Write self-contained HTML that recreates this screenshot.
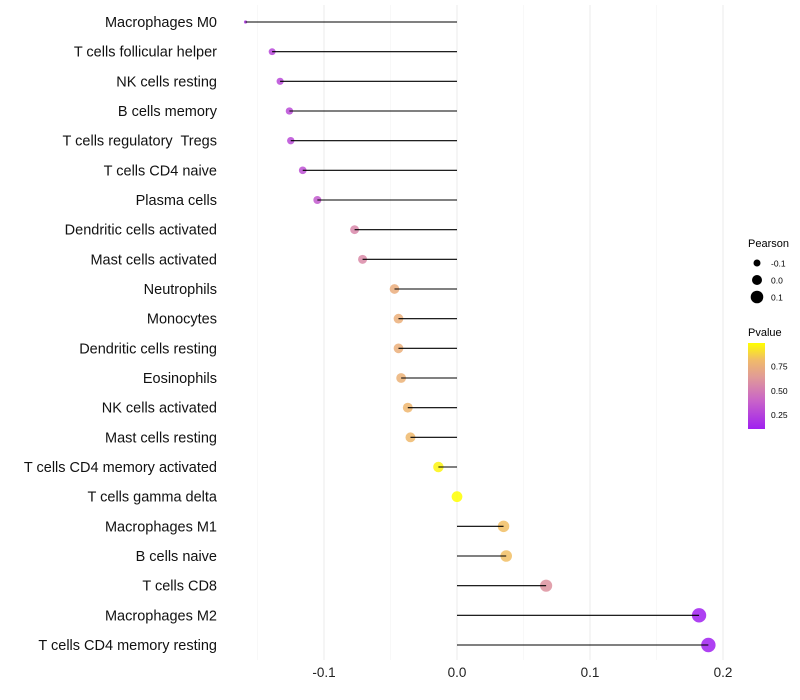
<!DOCTYPE html>
<html><head><meta charset="utf-8"><style>
body{margin:0;background:#fff;}
svg{display:block;font-family:"Liberation Sans",Arial,sans-serif;}
</style></head><body>
<svg id="chart" width="800" height="700">
<g id="grid"></g>
<g id="points"></g>
<g id="stems"></g>
<g id="ylabels"></g>
<g id="xlabels"></g>
<g id="legend">
<defs><linearGradient id="pg" x1="0" y1="1" x2="0" y2="0">
<stop offset="0" stop-color="#A020F0"/><stop offset="0.33" stop-color="#C964C8"/><stop offset="0.6" stop-color="#E09A98"/><stop offset="0.8" stop-color="#F0BA6A"/><stop offset="1" stop-color="#FFFF00"/></linearGradient></defs>
<text x="748" y="247" font-size="11">Pearson</text>
<circle cx="757" cy="263" r="3.5" fill="#000"/>
<text x="771" y="266.5" font-size="8.5">-0.1</text>
<circle cx="757" cy="280" r="5" fill="#000"/>
<text x="771" y="283.5" font-size="8.5">0.0</text>
<circle cx="757" cy="297" r="6.3" fill="#000"/>
<text x="771" y="300.5" font-size="8.5">0.1</text>
<text x="748" y="336" font-size="11">Pvalue</text>
<rect x="748" y="343" width="17" height="86" fill="url(#pg)"/>
<text x="771" y="369.5" font-size="8.5">0.75</text>
<text x="771" y="394" font-size="8.5">0.50</text>
<text x="771" y="418" font-size="8.5">0.25</text>
</g>
</svg>
<script>
const cells = ["Macrophages M0","T cells follicular helper","NK cells resting","B cells memory","T cells regulatory  Tregs","T cells CD4 naive","Plasma cells","Dendritic cells activated","Mast cells activated","Neutrophils","Monocytes","Dendritic cells resting","Eosinophils","NK cells activated","Mast cells resting","T cells CD4 memory activated","T cells gamma delta","Macrophages M1","B cells naive","T cells CD8","Macrophages M2","T cells CD4 memory resting"];
const pearson = [-0.159,-0.139,-0.133,-0.126,-0.125,-0.116,-0.105,-0.077,-0.071,-0.047,-0.044,-0.044,-0.042,-0.037,-0.035,-0.014,0.000,0.035,0.037,0.067,0.182,0.189];
const pvalue = [0.2,0.27,0.28,0.29,0.29,0.31,0.35,0.55,0.56,0.74,0.75,0.75,0.76,0.79,0.8,0.96,0.99,0.82,0.82,0.6,0.1,0.1];
const xTicks = [-0.1,0,0.1,0.2];
const xTickLabels = ["-0.1","0.0","0.1","0.2"];
const xMinor = [-0.15,-0.05,0.05,0.15];

const NS="http://www.w3.org/2000/svg";
const X = v => 457 + v*1330;
const Y = i => 22 + i*(623/21);
const pMin=0.107, pMax=0.985;
const stops=[[0,[160,32,240]],[0.33,[201,100,200]],[0.6,[224,154,152]],[0.8,[240,186,106]],[1,[255,255,0]]];
function col(p){let t=Math.max(0,Math.min(1,(p-pMin)/(pMax-pMin)));
 for(let k=1;k<stops.length;k++){if(t<=stops[k][0]){const a=stops[k-1],b=stops[k];const u=(t-a[0])/(b[0]-a[0]);
 return "rgb("+a[1].map((c,j)=>Math.round(c+(b[1][j]-c)*u)).join(",")+")";}}return "rgb(255,255,0)";}
function rad(v){const t=(v+0.139)/0.328; if(t<0) return 1.6; return Math.sqrt(12+t*40);}
function mk(tag,attrs,parent){const e=document.createElementNS(NS,tag);for(const k in attrs)e.setAttribute(k,attrs[k]);parent.appendChild(e);return e;}
const grid=document.getElementById('grid'),pts=document.getElementById('points'),stems=document.getElementById('stems'),yl=document.getElementById('ylabels'),xl=document.getElementById('xlabels');
xMinor.forEach(v=>{const l=mk('line',{x1:X(v),x2:X(v),y1:5,y2:660,stroke:'#f3f3f3','stroke-width':0.6},grid);

});
xTicks.forEach((v,i)=>{const l=mk('line',{x1:X(v),x2:X(v),y1:5,y2:660,stroke:'#ebebeb','stroke-width':1},grid);


const t=mk('text',{x:X(v),y:677,'font-size':13.5,'text-anchor':'middle',fill:'#222'},xl);t.textContent=xTickLabels[i];

});
cells.forEach((c,i)=>{const y=Y(i);
const d=mk('circle',{cx:X(pearson[i]),cy:y,r:rad(pearson[i]),fill:col(pvalue[i]),'fill-opacity':0.85},pts);


const l=mk('line',{x1:X(0),x2:X(pearson[i]),y1:y,y2:y,stroke:'#000','stroke-width':1.1},stems);


const t=mk('text',{x:217,y:y+5,'font-size':14.5,'text-anchor':'end',fill:'#111'},yl);t.textContent=c;
t.setAttribute('xml:space','preserve');t.style.whiteSpace='pre';

});
</script>
</body></html>
